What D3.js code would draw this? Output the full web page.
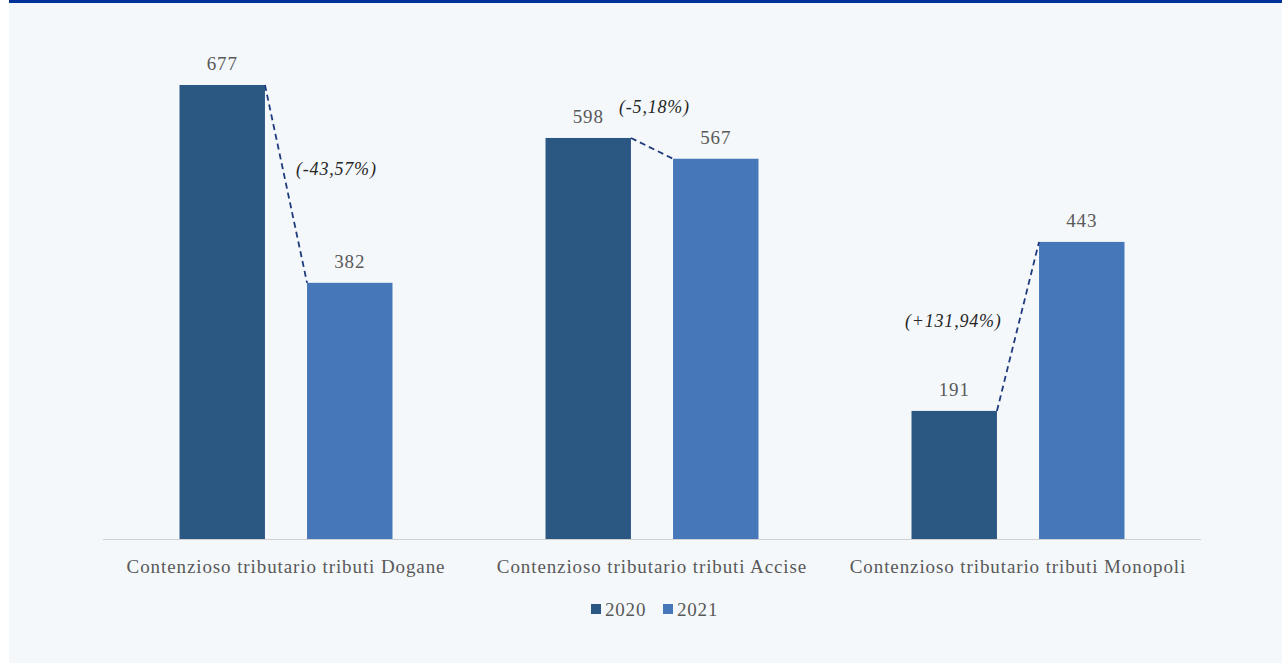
<!DOCTYPE html>
<html>
<head>
<meta charset="utf-8">
<script src="https://cdn.jsdelivr.net/npm/d3@7"></script>
<style>
  html, body { margin: 0; padding: 0; background: #ffffff; }
  svg { display: block; }
  text { font-family: "Liberation Serif", "DejaVu Serif", serif; }
</style>
</head>
<body>
<div id="chart"></div>
<script>
// Chart data
const categories = [
    "Contenzioso tributario tributi Dogane",
    "Contenzioso tributario tributi Accise",
    "Contenzioso tributario tributi Monopoli"
];
const years = ["2020", "2021"];
const values2020 = [677, 598, 191];
const values2021 = [382, 567, 443];
const changeLabels = ["(-43,57%)", "(-5,18%)", "(+131,94%)"];

const W = 1282, H = 663;
const colors = { "2020": "#2b5783", "2021": "#4677b9" };

const svg = d3.select("#chart")
    .append("svg")
    .attr("width", W)
    .attr("height", H);

// Background panel and top band
svg.append("rect").attr("x", 9).attr("y", 0).attr("width", W - 9).attr("height", H).attr("fill", "#f4f8fb");
svg.append("rect").attr("x", 9).attr("y", 0).attr("width", W - 9).attr("height", 3).attr("fill", "#003399");

// Scales
const x0 = d3.scaleBand()
    .domain(categories)
    .range([103, 1201]);

const x1 = d3.scaleBand()
    .domain(years)
    .range([0, x0.bandwidth()])
    .paddingInner(0.33)
    .paddingOuter(0.6);

const y = d3.scaleLinear()
    .domain([0, 800])
    .range([539, 2.5]);

const data = categories.map((c, i) => ({
    cat: c,
    v2020: values2020[i],
    v2021: values2021[i],
    change: changeLabels[i]
}));

// Bars
const groups = svg.selectAll(".group")
    .data(data)
    .enter()
    .append("g")
    .attr("class", "group")
    .attr("transform", d => `translate(${x0(d.cat)},0)`);

groups.selectAll("rect")
    .data(d => years.map(yr => ({ year: yr, value: d["v" + yr] })))
    .enter()
    .append("rect")
    .attr("x", d => x1(d.year))
    .attr("y", d => y(d.value))
    .attr("width", x1.bandwidth())
    .attr("height", d => y(0) - y(d.value))
    .attr("fill", d => colors[d.year]);

groups.selectAll(".val")
    .data(d => years.map(yr => ({ year: yr, value: d["v" + yr] })))
    .enter()
    .append("text")
    .attr("class", "val")
    .attr("x", d => x1(d.year) + x1.bandwidth() / 2)
    .attr("y", d => y(d.value) - 15)
    .attr("text-anchor", "middle")
    .attr("font-size", 19)
    .attr("letter-spacing", 0.8)
    .attr("fill", "#595959")
    .text(d => d.value);

// Dashed connectors
groups.append("line")
    .attr("x1", x1("2020") + x1.bandwidth())
    .attr("y1", d => y(d.v2020))
    .attr("x2", x1("2021"))
    .attr("y2", d => y(d.v2021))
    .attr("stroke", "#1f3a7d")
    .attr("stroke-width", 1.8)
    .attr("stroke-dasharray", "6,4");

// Change labels (offsets relative to each category band)
const changeX = [193, 150, 70];
const changeY = [175, 113, 327];
groups.append("text")
    .attr("x", (d, i) => changeX[i])
    .attr("y", (d, i) => changeY[i])
    .attr("font-size", 18)
    .attr("font-style", "italic")
    .attr("letter-spacing", 0.8)
    .attr("fill", "#262626")
    .text(d => d.change);

// Axis
svg.append("line")
    .attr("x1", 103).attr("x2", 1201)
    .attr("y1", y(0) + 0.5).attr("y2", y(0) + 0.5)
    .attr("stroke", "#d0d0d0")
    .attr("stroke-width", 1);

svg.selectAll(".cat")
    .data(categories)
    .enter()
    .append("text")
    .attr("class", "cat")
    .attr("x", d => x0(d) + x0.bandwidth() / 2)
    .attr("y", 573)
    .attr("text-anchor", "middle")
    .attr("font-size", 19)
    .attr("letter-spacing", 0.9)
    .attr("fill", "#595959")
    .text(d => d);

// Legend
const legend = svg.append("g").attr("transform", "translate(591,610)");
const legendX = [0, 72];
years.forEach((yr, i) => {
    legend.append("rect")
        .attr("x", legendX[i])
        .attr("y", -6)
        .attr("width", 10)
        .attr("height", 10)
        .attr("fill", colors[yr]);
    legend.append("text")
        .attr("x", legendX[i] + 14)
        .attr("y", 6)
        .attr("font-size", 19)
        .attr("letter-spacing", 0.8)
        .attr("fill", "#595959")
        .text(yr);
});
</script>
</body>
</html>
